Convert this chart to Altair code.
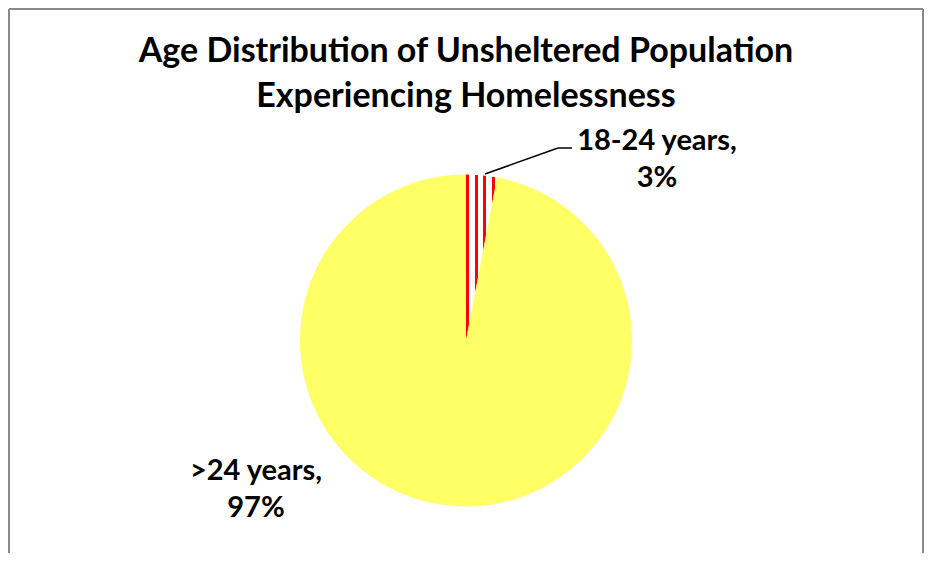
import altair as alt
import pandas as pd

# ---- data ----
categories = ["18-24 years", ">24 years"]
percents = [3, 97]
slice_order = [0, 1]
label_texts = ["18-24 years,\n3%", ">24 years,\n97%"]
title_lines = ["Age Distribution of Unsheltered Population", "Experiencing Homelessness"]

df = pd.DataFrame({"category": categories, "pct": percents, "order": slice_order})

YELLOW = "#FFFF66"
RED = "#FF0000"
FONT = "Lato"

# vertical red/white stripes for the small slice
stripe_bands = [(0.0, 0.10), (0.28, 0.38), (0.55, 0.65), (0.83, 0.93)]
stops = []
for a, b in stripe_bands:
    stops += [{"offset": a, "color": "#FFFFFF"}, {"offset": a, "color": RED},
              {"offset": b, "color": RED}, {"offset": b, "color": "#FFFFFF"}]
stops.append({"offset": 1.0, "color": "#FFFFFF"})
stripes = {"gradient": "linear", "x1": 0, "x2": 1, "y1": 0, "y2": 0, "stops": stops}

W, H, TOP = 916, 425, 120

pie = alt.Chart(df).mark_arc(outerRadius=166, stroke=None).encode(
    theta=alt.Theta("pct:Q", stack=True),
    order=alt.Order("order:Q"),
    fill=alt.condition(alt.datum.category == "18-24 years", alt.value(stripes), alt.value(YELLOW)),
)

lab_df = pd.DataFrame({"category": categories, "text": label_texts,
                       "lx": [649, 248], "ly": [22, 352]})
labels = alt.Chart(lab_df).mark_text(
    font=FONT, fontSize=29, fontWeight="bold", color="black",
    lineBreak="\n", lineHeight=37, align="center", baseline="alphabetic",
).encode(
    x=alt.X("lx:Q", scale=None), y=alt.Y("ly:Q", scale=None), text="text:N"
)

leader_df = pd.DataFrame({"x1": [477, 550], "y1": [46, 20], "x2": [550, 564], "y2": [20, 20]})
leader = alt.Chart(leader_df).mark_rule(color="black", strokeWidth=1.5).encode(
    x=alt.X("x1:Q", scale=None), y=alt.Y("y1:Q", scale=None),
    x2="x2:Q", y2="y2:Q",
)

# chart frame (left, top, right edges)
frame_df = pd.DataFrame({"x1": [1, 1, W - 1], "y1": [-TOP + 1, -TOP + 1, -TOP + 1],
                         "x2": [1, W - 1, W - 1], "y2": [H, -TOP + 1, H]})
frame = alt.Chart(frame_df).mark_rule(color="#898989", strokeWidth=2).encode(
    x=alt.X("x1:Q", scale=None), y=alt.Y("y1:Q", scale=None),
    x2="x2:Q", y2="y2:Q",
)

chart = alt.layer(frame, pie, leader, labels).properties(
    width=W, height=H,
    autosize=alt.AutoSizeParams(type="none"),
    padding={"top": TOP, "left": 0, "right": 0, "bottom": 0},
    title=alt.TitleParams(title_lines, font=FONT, fontSize=34, fontWeight="bold",
                          color="black", anchor="middle", lineHeight=45, offset=14,
                          dy=TOP),
).configure_view(stroke=None)

chart.save("out.html", embed_options={"renderer": "svg", "actions": False})
